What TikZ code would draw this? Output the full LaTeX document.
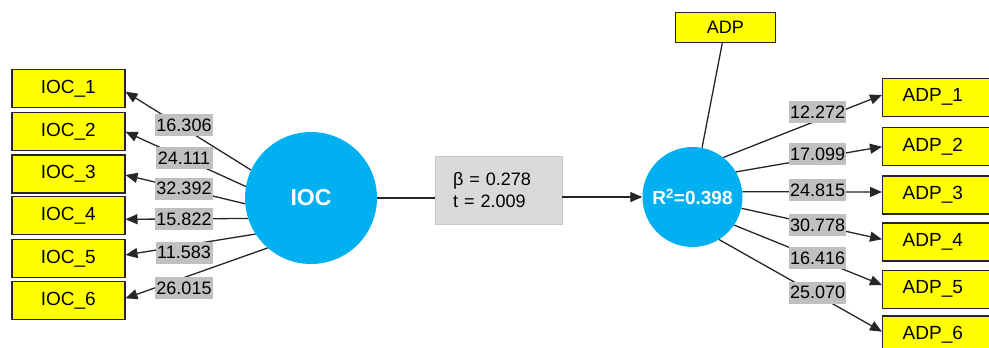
\documentclass[tikz,border=0pt]{standalone}
\usepackage{fontspec}
\setmainfont{Liberation Sans}
\usetikzlibrary{arrows.meta}
\definecolor{indfill}{HTML}{FFFF00}
\definecolor{lvfill}{HTML}{00B0F0}
\definecolor{labfill}{HTML}{C0C0C0}
\definecolor{pathfill}{HTML}{D9D9D9}
\definecolor{pathline}{HTML}{C8C8C8}
\definecolor{conn}{HTML}{262626}
\begin{document}
\begin{tikzpicture}[x=1pt,y=-1pt,
  indbox/.style={draw=conn, line width=1.4pt, fill=indfill, minimum width=113pt,
    minimum height=38pt, inner sep=0pt, font=\fontsize{19}{22}\selectfont},
  rindbox/.style={draw=conn, line width=1.4pt, fill=indfill, anchor=west,
    minimum height=38pt, inner xsep=20pt, inner ysep=0pt, text width=90pt,
    align=left, font=\fontsize{19}{22}\selectfont},
  topbox/.style={draw=conn, line width=1.4pt, fill=indfill, minimum width=100pt,
    minimum height=30pt, inner sep=0pt, font=\fontsize{18}{21}\selectfont},
  lvnode/.style={circle, fill=lvfill, inner sep=0pt, text=white},
  loadlab/.style={fill=labfill, inner xsep=1pt, inner ysep=0pt, minimum width=57pt,
    minimum height=22pt, font=\fontsize{18}{20}\selectfont},
  pathbox/.style={fill=pathfill, draw=pathline, line width=0.6pt, inner xsep=18pt,
    inner ysep=0pt, text width=91pt, minimum height=68pt, align=left,
    font=\fontsize{18}{22}\selectfont},
  link/.style={draw=conn, line width=1.3pt},
  arr/.style={link, -{Triangle[length=12pt,width=10pt]}}
]
\useasboundingbox (0,0) rectangle (989,348);
\fill[white] (0,0) rectangle (989,348);

% indicator boxes left
\node[indbox] (I1) at (68.3,88.3) {IOC\_1};
\node[indbox] (I2) at (68.3,131.7) {IOC\_2};
\node[indbox] (I3) at (68.3,174) {IOC\_3};
\node[indbox] (I4) at (68.3,215.5) {IOC\_4};
\node[indbox] (I5) at (68.3,258.5) {IOC\_5};
\node[indbox] (I6) at (68.3,300.5) {IOC\_6};

% latent variables
\node[lvnode, minimum size=132pt, font=\fontsize{23}{26}\selectfont\bfseries] (IOC) at (311,198) {IOC};
\node[lvnode, minimum size=100pt, font=\fontsize{19}{22}\selectfont\bfseries] (R2) at (692.5,197) {R\textsuperscript{2}=0.398};

% path box
\node[pathbox] (beta) at (498.5,190) {β = 0.278\\t = 2.009};

% top box
\node[topbox] (ADP) at (725.3,27.5) {ADP};

% indicator boxes right
\node[rindbox] (A1) at (882,97.2) {ADP\_1};
\node[rindbox] (A2) at (882,146.3) {ADP\_2};
\node[rindbox] (A3) at (882,195) {ADP\_3};
\node[rindbox] (A4) at (882,242) {ADP\_4};
\node[rindbox] (A5) at (882,289.3) {ADP\_5};
\node[rindbox] (A6) at (882,335) {ADP\_6};

% left connectors
\draw[arr] (IOC.155) -- ([yshift=-3.4pt]I1.east);
\draw[arr] (IOC.170) -- (I2.east);
\draw[arr] (IOC.185) -- ([yshift=-1pt]I3.east);
\draw[arr] (IOC.198) -- ([yshift=-3.8pt]I4.east);
\draw[arr] (IOC.213) -- ([yshift=3.5pt]I5.east);
\draw[arr] (IOC.229) -- ([yshift=2.2pt]I6.east);

% structural path
\draw[link] (IOC) -- (IOC -| beta.west);
\draw[arr] (beta.east |- R2) -- (R2);
\draw[link] (ADP) -- (R2);

% right connectors
\draw[arr] (R2.52) -- ([yshift=2.2pt]A1.west);
\draw[arr] (R2.30) -- ([yshift=-0.4pt]A2.west);
\draw[arr] (R2.6) -- ([yshift=3pt]A3.west);
\draw[arr] (R2.-13) -- ([yshift=2.7pt]A4.west);
\draw[arr] (R2.-34) -- ([yshift=4.3pt]A5.west);
\draw[arr] (R2.-58) -- ([yshift=3.3pt]A6.west);

% loading labels left
\node[loadlab] (l1) at (184,125.3) {16.306};
\node[loadlab] (l2) at (184,158.3) {24.111};
\node[loadlab] (l3) at (184,188.5) {32.392};
\node[loadlab] (l4) at (184,219) {15.822};
\node[loadlab] (l5) at (184,252.5) {11.583};
\node[loadlab] (l6) at (184,288.3) {26.015};

% loading labels right
\node[loadlab] (r1) at (817.6,112) {12.272};
\node[loadlab] (r2) at (817.6,154) {17.099};
\node[loadlab] (r3) at (817.6,190) {24.815};
\node[loadlab] (r4) at (817.6,225.3) {30.778};
\node[loadlab] (r5) at (817.6,258.3) {16.416};
\node[loadlab] (r6) at (817.6,292.5) {25.070};
\end{tikzpicture}
\end{document}
